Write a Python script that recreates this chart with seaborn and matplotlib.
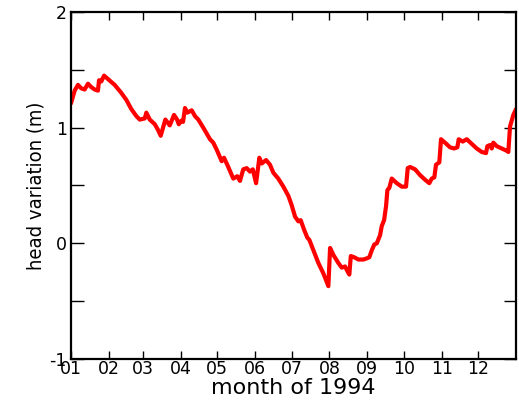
import matplotlib
matplotlib.use("Agg")
import matplotlib.pyplot as plt
import seaborn as sns
import pandas as pd
from matplotlib.ticker import FixedLocator, MultipleLocator

# Daily head variation at the observation well, 1994
day_of_year = [0, 3, 5.7, 8.4, 11.2, 13.9, 16.7, 19.4, 22.1, 23, 24.9, 27.1, 30.4,
               35.8, 41.3, 45.4, 49.5, 53.6, 56.4, 60.5, 61.8, 64.6, 68.7, 71.4,
               73.6, 75.5, 77.4, 79.6, 81, 84.5, 87, 88.4, 90.5, 91.9, 93.5, 95.4,
               99, 101.7, 104.4, 108.5, 114, 116.7, 119.5, 123.6, 125.5, 129,
               133.1, 136.4, 138.6, 141.3, 144.1, 146.8, 149.1, 151.8, 154.5,
               156.4, 160, 163.2, 166, 170, 174.2, 178.3, 181, 183.8, 186.5,
               188.4, 191.1, 193.8, 195.5, 198.8, 202.9, 207, 211.1, 212.5,
               215.2, 219.3, 222.1, 224.8, 226.2, 228.3, 229.5, 232.2, 235.7,
               239.8, 242.6, 244.7, 246.7, 248.8, 250.8, 253.5, 254.9, 256.8,
               258.4, 259.5, 261.1, 263.1, 267.2, 271.3, 274.8, 276.2, 278.1,
               282.2, 286.3, 290.4, 293.9, 295.9, 298, 299.4, 302.1, 303.5,
               306.8, 310.9, 314.2, 316.9, 318, 321.3, 324.6, 328.7, 332.8,
               336.9, 340.4, 341.5, 343.7, 345.1, 346.4, 349.2, 353.3, 357.4,
               358.7, 360.1, 362.8, 365]
head_m = [1.21, 1.32, 1.37, 1.34, 1.33, 1.38, 1.35, 1.33, 1.32, 1.41, 1.40, 1.45, 1.42,
          1.37, 1.30, 1.24, 1.16, 1.10, 1.07, 1.08, 1.13, 1.07, 1.03, 0.98,
          0.93, 1.00, 1.07, 1.04, 1.02, 1.11, 1.07, 1.03, 1.06, 1.05, 1.17, 1.13,
          1.15, 1.10, 1.07, 1.00, 0.90, 0.87, 0.81, 0.71, 0.74, 0.66,
          0.56, 0.58, 0.54, 0.64, 0.65, 0.62, 0.64, 0.52, 0.74,
          0.69, 0.72, 0.68, 0.61, 0.56, 0.49, 0.41, 0.33, 0.23, 0.19,
          0.20, 0.12, 0.05, 0.03, -0.06, -0.17, -0.26, -0.37, -0.04,
          -0.10, -0.17, -0.21, -0.20, -0.23, -0.27, -0.11, -0.12, -0.14,
          -0.14, -0.13, -0.12, -0.06, -0.01, 0.00, 0.07, 0.15, 0.20,
          0.32, 0.46, 0.48, 0.56, 0.52, 0.49, 0.49, 0.65, 0.66,
          0.64, 0.59, 0.55, 0.52, 0.56, 0.57, 0.68, 0.70, 0.90,
          0.87, 0.83, 0.82, 0.83, 0.90, 0.88, 0.90, 0.86, 0.82,
          0.79, 0.78, 0.84, 0.85, 0.82, 0.87, 0.84, 0.82, 0.80,
          0.79, 1.01, 1.11, 1.16]

# First day of each month (day-of-year) and its label
month_start = [0, 31, 59, 90, 120, 151, 181, 212, 243, 273, 304, 334]
month_labels = ["01", "02", "03", "04", "05", "06", "07", "08", "09", "10", "11", "12"]
y_ticks = [-1, 0, 1, 2]

sns.set_style("ticks")
plt.rcParams["font.family"] = ["DejaVu Sans"]
plt.rcParams["text.color"] = "black"
plt.rcParams["axes.labelcolor"] = "black"

df = pd.DataFrame({"day": day_of_year, "head": head_m})

fig = plt.figure(figsize=(5.19, 4.0), dpi=100)
ax = fig.add_axes([71 / 519, 41 / 400, 445 / 519, 347 / 400])

sns.lineplot(data=df, x="day", y="head", color="#ff0000", linewidth=3.0, ax=ax)

ax.set_xlim(0, 365)
ax.set_ylim(-1, 2)
ax.xaxis.set_major_locator(FixedLocator(month_start))
ax.set_xticklabels(month_labels)
ax.yaxis.set_major_locator(FixedLocator(y_ticks))
ax.yaxis.set_minor_locator(MultipleLocator(0.5))
ax.set_yticklabels([str(v) for v in y_ticks])

for side in ["top", "right", "bottom", "left"]:
    ax.spines[side].set_visible(True)
    ax.spines[side].set_linewidth(1.6)
    ax.spines[side].set_color("black")

ax.tick_params(axis="x", which="major", direction="in", length=6, width=1,
               top=True, bottom=True, labelsize=12.5, pad=1, colors="black")
ax.tick_params(axis="y", which="major", direction="in", length=9, width=1,
               left=True, right=True, labelsize=12.5, pad=3, colors="black")
ax.tick_params(axis="y", which="minor", direction="in", length=9, width=1,
               left=True, right=True, colors="black")

ax.set_xlabel("month of 1994", fontsize=16, labelpad=0, color="black")
ax.set_ylabel("head variation (m)", fontsize=14.5, labelpad=3, color="black",
              fontstretch="condensed")

fig.savefig("out.png", dpi=100)
